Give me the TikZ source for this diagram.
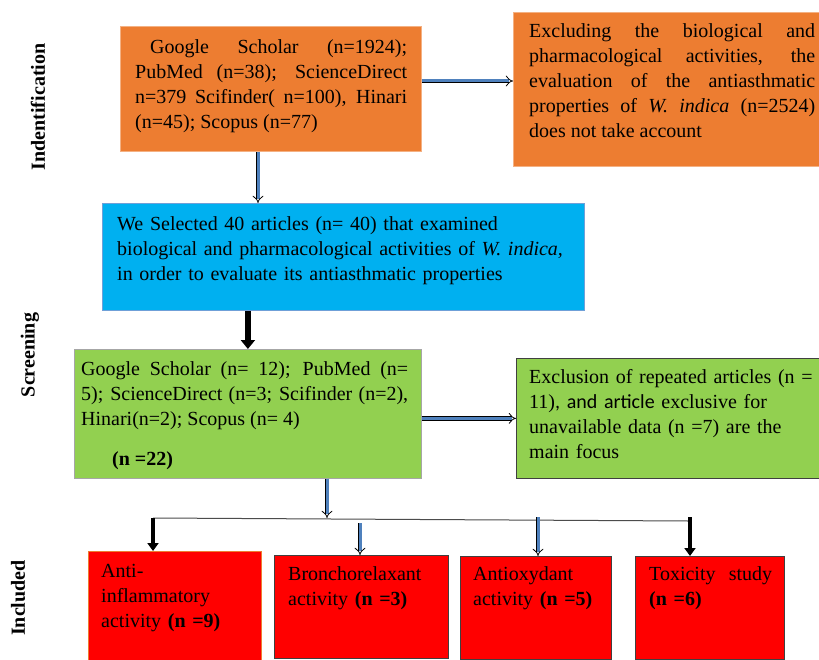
\documentclass[tikz,border=0pt]{standalone}
\usepackage{fontspec}
\setmainfont{Liberation Serif}
\newfontfamily\calib{Carlito}
\usetikzlibrary{arrows.meta,calc}
\definecolor{orangeA}{HTML}{ED7D31}
\definecolor{orangeB}{HTML}{F4B183}
\definecolor{blueA}{HTML}{00B0F0}
\definecolor{blueB}{HTML}{6FA0D8}
\definecolor{greenA}{HTML}{92D050}
\definecolor{redA}{HTML}{FF0000}
\definecolor{arrblue}{HTML}{4F81BD}
\newcommand\myfs{\fontsize{20}{25}\selectfont}
\hbadness=10000
\tikzset{
  box/.style={rectangle, anchor=north west, inner sep=0pt, line width=0.8pt},
  txt/.style={inner sep=0pt, anchor=north west, font=\myfs, text=black},
  hollow/.style={draw=black, line width=0.8pt, double=arrblue, double distance=3pt, -{Implies[scale=1.15]}},
  blackarrow/.style={draw=black, line width=4pt, -{Triangle[length=8pt,width=11pt]}},
  bigarrow/.style={draw=black, line width=5.5pt, -{Triangle[length=9pt,width=14pt]}},
  sidelab/.style={rotate=90, font=\bfseries\myfs, inner sep=0pt}
}
\begin{document}
\begin{tikzpicture}[x=1pt,y=-1pt]
\useasboundingbox (0,0) rectangle (819,660);
\fill[white] (0,0) rectangle (819,660);

% boxes
\node[box, fill=orangeA, draw=orangeB, minimum width=301pt, minimum height=125pt] (b1) at (120,26) {};
\node[box, fill=orangeA, draw=orangeB, minimum width=312pt, minimum height=154pt] (b2) at (513,12) {};
\node[box, fill=blueA, draw=blueB, minimum width=482pt, minimum height=107pt] (blue) at (102,203) {};
\node[box, fill=greenA, draw=black!35, minimum width=347pt, minimum height=129pt] (g1) at (74,349) {};
\node[box, fill=greenA, draw=black!75, minimum width=308pt, minimum height=120pt] (g2) at (516,358) {};
\node[box, fill=redA, draw=orangeA, minimum width=173pt, minimum height=115pt] (rA) at (88,551) {};
\node[box, fill=redA, draw=black!75, minimum width=174pt, minimum height=103pt] (rB) at (274,555) {};
\node[box, fill=redA, draw=black!75, minimum width=151pt, minimum height=103pt] (rC) at (460,556) {};
\node[box, fill=redA, draw=black!75, minimum width=149pt, minimum height=103pt] (rD) at (635,556) {};

% texts
\node[txt, text width=272pt, align=justify] (t1) at (135,35.5) {\strut\hspace*{15pt}Google Scholar (n=1924);\linebreak PubMed (n=38); ScienceDirect\linebreak n=379 Scifinder( n=100), Hinari\linebreak (n=45); Scopus (n=77)};
\node[txt, text width=286pt, align=justify] (t2) at (529,19.5) {\strut Excluding the biological and\linebreak pharmacological activities, the\linebreak evaluation of the antiasthmatic\linebreak properties of \textit{W. indica} (n=2524)\linebreak does not take account};
\node[txt, text width=460pt, align=left] (t3) at (117,212.5) {\strut We Selected 40 articles (n= 40) that examined\\ biological and pharmacological activities of \textit{W. indica,}\\ in order to evaluate its antiasthmatic properties};
\node[txt, text width=327pt, align=justify] (t4) at (81,357.5) {\strut Google Scholar (n= 12); PubMed (n=\linebreak 5); ScienceDirect (n=3; Scifinder (n=2),\linebreak Hinari(n=2); Scopus (n= 4)};
\node[txt] (t4b) at (112,447.5) {\strut\textbf{(n =22)}};
\node[txt, text width=295pt, align=left] (t5) at (529,365.5) {\strut Exclusion of repeated articles (n =\\ 11){\calib, and article} exclusive for\\ unavailable data (n =7) are the\\ main focus};
\node[txt, text width=160pt, align=left] (tA) at (101,559.5) {\strut Anti-\\ inflammatory\\ activity \textbf{(n =9)}};
\node[txt, text width=160pt, align=left] (tB) at (288,562.5) {\strut Bronchorelaxant\\ activity \textbf{(n =3)}};
\node[txt, text width=140pt, align=left] (tC) at (473,562.5) {\strut Antioxydant\\ activity \textbf{(n =5)}};
\node[txt, text width=130pt, align=left] (tD) at (649,562.5) {\strut Toxicity\ \ study\\ \textbf{(n =6)}};

% side labels
\node[sidelab] (lab1) at (38,107) {Indentification};
\node[sidelab] (lab2) at (30,355) {Screening};
\node[sidelab] (lab3) at (18,598) {Included};

% connectors
\draw[hollow] (258,0 |- b1.south) -- (258,0 |- blue.north);
\draw[hollow] (b1.east |- 0,81) -- (b2.west |- 0,81);
\draw[bigarrow] (g1.north |- blue.south) -- (g1.north);
\draw[hollow] (g1.east |- g2.west) -- (g2.west);
\coordinate (jn) at (327,518);
\draw[hollow] (jn |- g1.south) -- (jn);
\coordinate (L) at (153,518);
\coordinate (R) at (688,521);
\draw[black!70, line width=1pt] (L) -- (R);
\draw[blackarrow] (L) -- (L |- rA.north);
\coordinate (s2) at (360,523);
\draw[hollow] (s2) -- (s2 |- rB.north);
\coordinate (s3) at (538,517);
\draw[hollow] (s3) -- (s3 |- rC.north);
\coordinate (s4) at (690,517);
\draw[blackarrow] (s4) -- (s4 |- rD.north);
\end{tikzpicture}
\end{document}
